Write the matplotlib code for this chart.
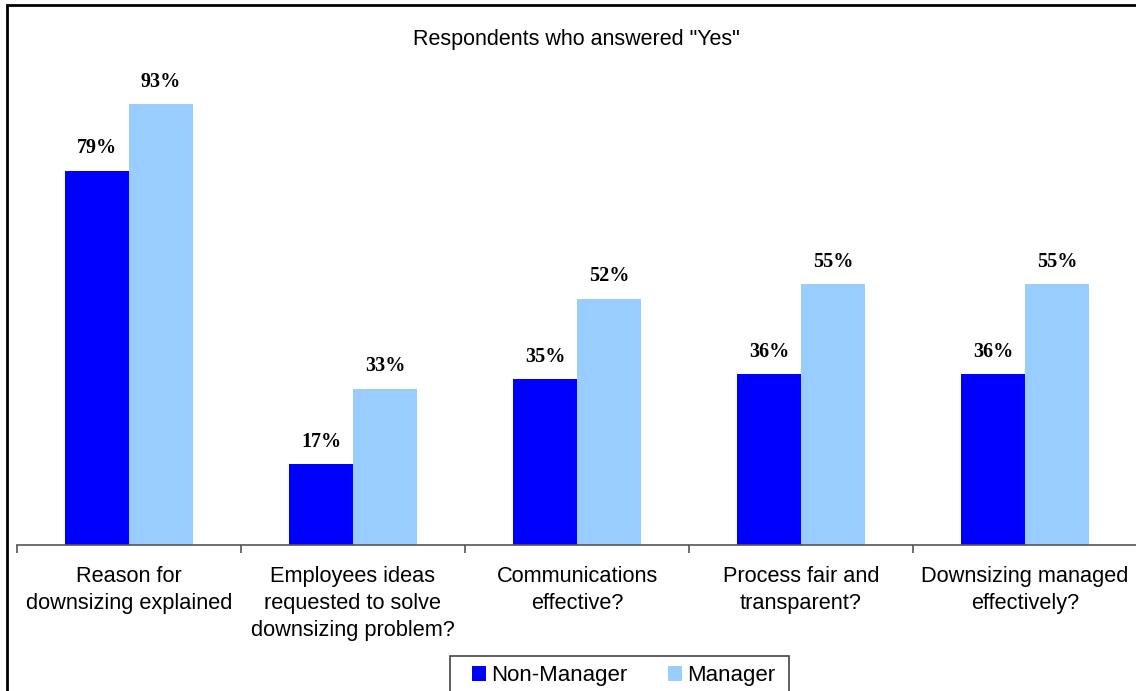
import matplotlib.pyplot as plt
import numpy as np
from matplotlib.patches import Rectangle

# Share of respondents answering "Yes", by question
questions = [
    "Reason for\ndownsizing explained",
    "Employees ideas\nrequested to solve\ndownsizing problem?",
    "Communications\neffective?",
    "Process fair and\ntransparent?",
    "Downsizing managed\neffectively?",
]
non_manager = [79, 17, 35, 36, 36]
manager = [93, 33, 52, 55, 55]

W, H = 1136, 691
fig = plt.figure(figsize=(W / 100, H / 100), dpi=100)
plt.rcParams["font.family"] = ["Liberation Sans", "DejaVu Sans"]

# axes placed in pixel terms: baseline at y=545, categories 224 px wide starting x=17
left, right = 17, 17 + 5 * 224
bottom, top = 545, 71
ax = fig.add_axes([left / W, 1 - bottom / H, (right - left) / W, (bottom - top) / H])

x = np.arange(len(questions))
width = 64 / 224
bars1 = ax.bar(x - width / 2, non_manager, width, color="#0000FF", label="Non-Manager")
bars2 = ax.bar(x + width / 2, manager, width, color="#99CCFF", label="Manager")

for bars in (bars1, bars2):
    ax.bar_label(bars, labels=[f"{v.get_height():.0f}%" for v in bars], padding=9,
                 fontsize=14.5, fontweight="bold", family="Liberation Serif")

ax.set_xlim(-0.5, len(questions) - 0.5)
ax.set_ylim(0, 100)
ax.set_yticks([])
for side in ("left", "right", "top"):
    ax.spines[side].set_visible(False)
ax.spines["bottom"].set_color("#555555")
ax.spines["bottom"].set_linewidth(1.2)

# category labels sit between the boundary ticks
ax.set_xticks(np.arange(len(questions) + 1) - 0.5)
ax.set_xticklabels([])
ax.set_xticks(x, minor=True)
ax.set_xticklabels(questions, minor=True, fontsize=15.7, linespacing=1.38)
ax.tick_params(axis="x", which="major", length=6, width=1.2, color="#555555")
ax.tick_params(axis="x", which="minor", length=0, pad=15)

fig.text(576 / W, 1 - 40 / H, 'Respondents who answered "Yes"', ha="center",
         va="center", fontsize=15.5)

# legend entries without a frame; the box is drawn separately below
fig.legend(loc="center left", bbox_to_anchor=(472 / W, 1 - 676 / H), ncol=2,
           fontsize=16, frameon=False, handlelength=0.62, handleheight=0.62,
           handletextpad=0.23, columnspacing=1.85, borderpad=0, borderaxespad=0)
fig.patches.append(Rectangle((450 / W, -0.1), (789 - 450) / W, 0.1 + 1 - 656 / H,
                             transform=fig.transFigure, fill=False,
                             edgecolor="#444444", linewidth=1.2))

# outer chart frame
fig.patches.append(Rectangle((7 / W, -0.2), 1.2, 1.2 - 5 / H, transform=fig.transFigure,
                             fill=False, edgecolor="black", linewidth=2))

fig.savefig("out.png", dpi=100)
